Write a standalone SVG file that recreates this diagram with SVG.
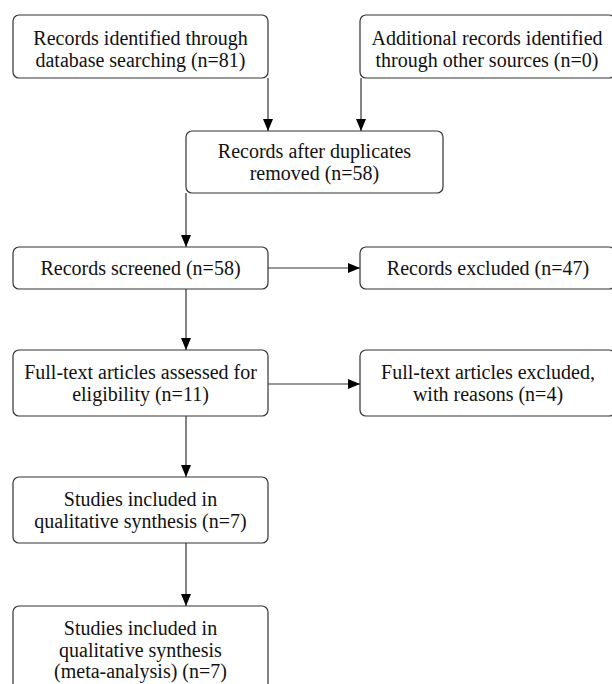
<svg xmlns="http://www.w3.org/2000/svg" width="612" height="684" viewBox="0 0 612 684">
<defs>
<marker id="arr" viewBox="0 0 12 10" refX="12" refY="5" markerWidth="12" markerHeight="10" markerUnits="userSpaceOnUse" orient="auto">
<path d="M0,0 L12,5 L0,10 Z" fill="#000"/>
</marker>
<style>
.box{fill:#fff;stroke:#333;stroke-width:1.2}
.t{font-family:"Liberation Serif","Times New Roman",serif;font-size:20px;fill:#111;text-anchor:middle}
.c{stroke:#333;stroke-width:1.2;fill:none;marker-end:url(#arr)}
</style>
</defs>
<rect width="612" height="684" fill="#fff"/>
<g id="connectors">
<line class="c" x1="268" y1="78" x2="268" y2="131"/>
<line class="c" x1="361" y1="78" x2="361" y2="131"/>
<line class="c" x1="186" y1="193" x2="186" y2="247"/>
<line class="c" x1="268" y1="268" x2="360" y2="268"/>
<line class="c" x1="186" y1="289" x2="186" y2="350"/>
<line class="c" x1="268" y1="384" x2="360" y2="384"/>
<line class="c" x1="186" y1="416" x2="186" y2="477"/>
<line class="c" x1="186" y1="543" x2="186" y2="606"/>
</g>
<g id="n1">
<rect class="box" x="13" y="15" width="255" height="63" rx="6"/>
<text class="t" x="140.5" y="45">Records identified through</text>
<text class="t" x="140.5" y="67">database searching (n=81)</text>
</g>
<g id="n2">
<rect class="box" x="360" y="15" width="255" height="63" rx="6"/>
<text class="t" x="487" y="45">Additional records identified</text>
<text class="t" x="487" y="67">through other sources (n=0)</text>
</g>
<g id="n3">
<rect class="box" x="186" y="131" width="257" height="62" rx="6"/>
<text class="t" x="314.5" y="158">Records after duplicates</text>
<text class="t" x="314.5" y="180">removed (n=58)</text>
</g>
<g id="n4">
<rect class="box" x="13" y="247" width="255" height="42" rx="6"/>
<text class="t" x="140.5" y="275">Records screened (n=58)</text>
</g>
<g id="n5">
<rect class="box" x="360" y="247" width="255" height="42" rx="6"/>
<text class="t" x="488" y="275">Records excluded (n=47)</text>
</g>
<g id="n6">
<rect class="box" x="13" y="350" width="255" height="66" rx="6"/>
<text class="t" x="140.5" y="379">Full-text articles assessed for</text>
<text class="t" x="140.5" y="401">eligibility (n=11)</text>
</g>
<g id="n7">
<rect class="box" x="360" y="350" width="255" height="66" rx="6"/>
<text class="t" x="488" y="379">Full-text articles excluded,</text>
<text class="t" x="488" y="401">with reasons (n=4)</text>
</g>
<g id="n8">
<rect class="box" x="13" y="477" width="255" height="66" rx="6"/>
<text class="t" x="140.5" y="506">Studies included in</text>
<text class="t" x="140.5" y="528">qualitative synthesis (n=7)</text>
</g>
<g id="n9">
<rect class="box" x="13" y="606" width="255" height="95" rx="6"/>
<text class="t" x="140.5" y="635">Studies included in</text>
<text class="t" x="140.5" y="657">qualitative synthesis</text>
<text class="t" x="140.5" y="678">(meta-analysis) (n=7)</text>
</g>
</svg>
